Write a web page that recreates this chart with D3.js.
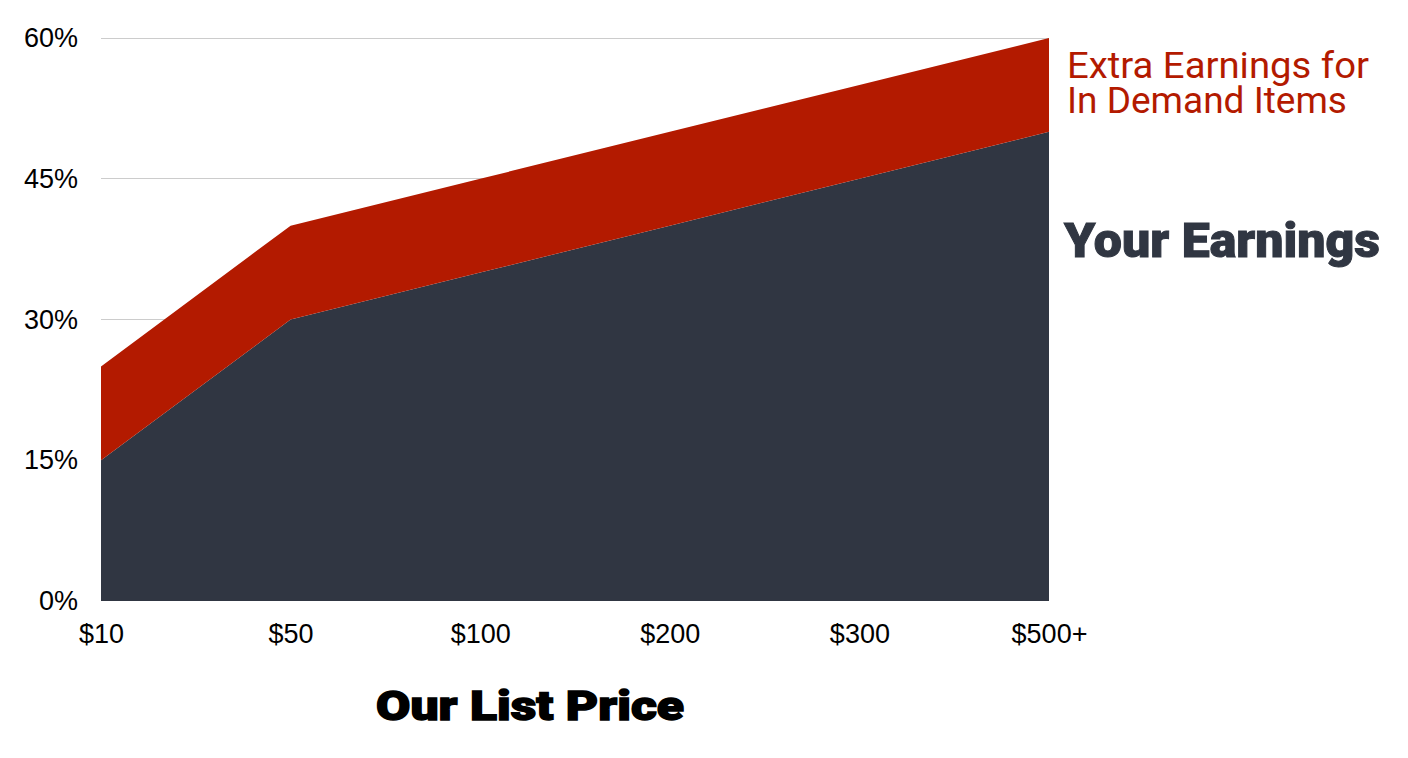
<!DOCTYPE html>
<html><head><meta charset="utf-8">
<script src="https://cdn.jsdelivr.net/npm/d3@7"></script>
<style>body{margin:0;background:#fff}svg{display:block}</style>
</head><body>
<script>
const categories = ["$10","$50","$100","$200","$300","$500+"];
const yourEarnings = [15,30,35,40,45,50];
const extraEarnings = [10,10,10,10,10,10];
const yTicks = [0,15,30,45,60];
const seriesNames = ["Your Earnings","Extra Earnings for In Demand Items"];
const colors = ["#303642","#b31a00"];

const W=1408,H=758;
const svg=d3.select("body").append("svg").attr("width",W).attr("height",H);
const x=d3.scalePoint().domain(categories).range([101,1049]);
const y=d3.scaleLinear().domain([0,60]).range([601,38]);

const data=categories.map((c,i)=>({cat:c,base:yourEarnings[i],extra:extraEarnings[i]}));
const stack=d3.stack().keys(["base","extra"])(data);

// gridlines
svg.append("g").selectAll("line").data(yTicks.filter(d=>d>0)).join("line")
  .attr("x1",101).attr("x2",1049).attr("y1",d=>y(d)).attr("y2",d=>y(d))
  .attr("stroke","#cccccc").attr("stroke-width",1).attr("shape-rendering","crispEdges");

const area=d3.area().x(d=>x(d.data.cat)).y0(d=>y(d[0])).y1(d=>y(d[1]));
svg.append("g").selectAll("path").data(stack).join("path")
  .attr("d",area).attr("fill",(d,i)=>colors[i]);

// y axis labels
const yAxis=d3.axisLeft(y).tickValues(yTicks).tickFormat(d=>d+"%").tickSize(0).tickPadding(0);
const gy=svg.append("g").attr("transform","translate(78,0)").call(yAxis);
gy.select(".domain").remove();
gy.selectAll("text").attr("font-family","Liberation Sans, Arial, sans-serif").attr("font-size",27).attr("fill","#000");

// x axis labels
const xAxis=d3.axisBottom(x).tickSize(0).tickPadding(0);
const gx=svg.append("g").attr("transform","translate(0,624)").call(xAxis);
gx.select(".domain").remove();
gx.selectAll("text").attr("font-family","Liberation Sans, Arial, sans-serif").attr("font-size",27).attr("fill","#000");

// series labels
const lab=svg.append("text").attr("x",1067).attr("font-family","Roboto, sans-serif").attr("font-size",37).attr("fill",colors[1]);
lab.append("tspan").attr("x",1067).attr("y",78).attr("textLength",302).attr("lengthAdjust","spacingAndGlyphs").text("Extra Earnings for");
lab.append("tspan").attr("x",1067).attr("y",113).text("In Demand Items");
svg.append("text").attr("x",1064).attr("y",257).attr("font-family","Roboto, sans-serif").attr("font-weight",900)
  .attr("font-size",49).attr("fill",colors[0]).attr("stroke",colors[0]).attr("stroke-width",1)
  .attr("textLength",316).attr("lengthAdjust","spacingAndGlyphs").text(seriesNames[0]);

// x axis title
svg.append("text").attr("x",376).attr("y",720).attr("font-family","Roboto, sans-serif")
  .attr("font-weight",900).attr("font-size",41).attr("fill","#000").attr("stroke","#000").attr("stroke-width",1.4)
  .attr("textLength",308).attr("lengthAdjust","spacingAndGlyphs").text("Our List Price");
</script>
</body></html>
